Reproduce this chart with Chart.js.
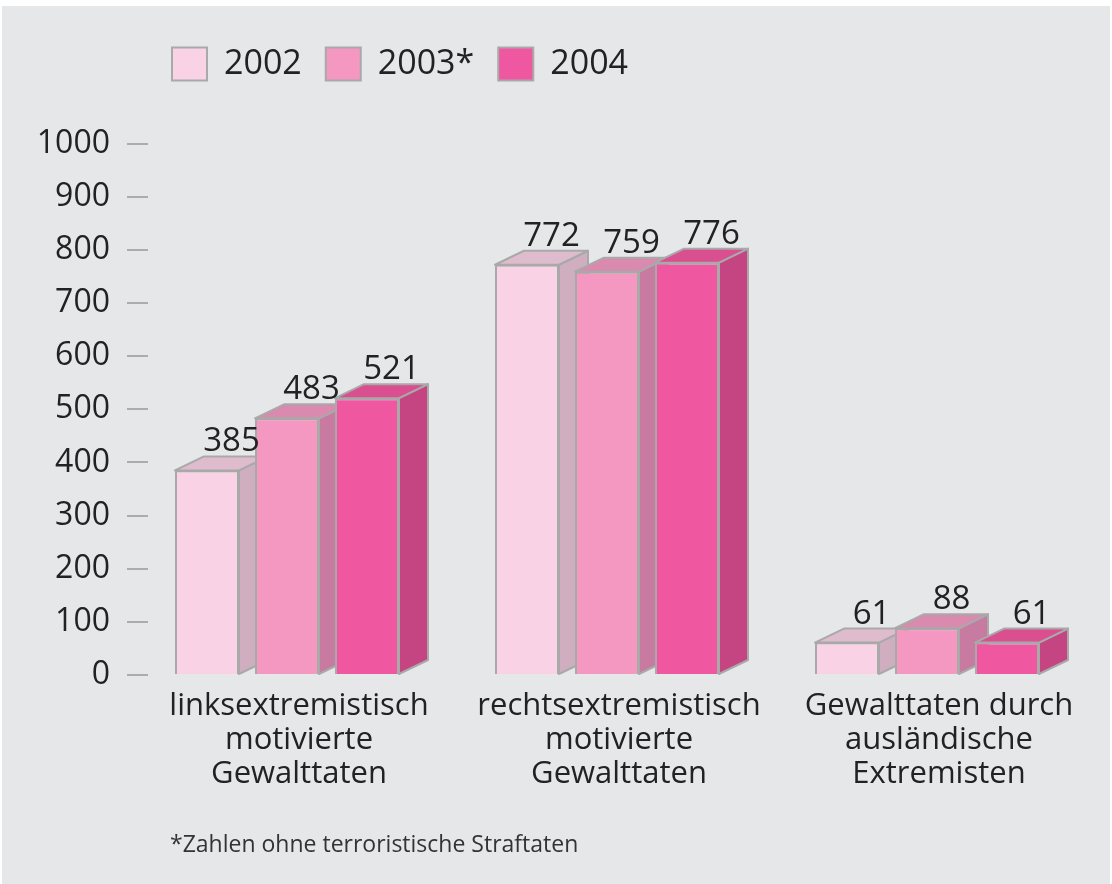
<!DOCTYPE html>
<html>
<head>
<meta charset="utf-8">
<script src="https://cdn.jsdelivr.net/npm/chart.js@4.4.1/dist/chart.umd.min.js"></script>
<style>
  html, body { margin: 0; background: #fff; }
  body { width: 1112px; height: 884px; position: relative; overflow: hidden; font-family: 'Open Sans', sans-serif; }
  .panel { position: absolute; left: 2px; top: 6px; width: 1108px; height: 890px; background: #e6e7e9; }
  #chart { position: absolute; left: 0; top: 0; }
  .note { position: absolute; left: 170px; top: 828px; font-size: 23px; line-height: 30px; color: #333; }
</style>
</head>
<body>
<div class="panel"></div>
<canvas id="chart" width="1112" height="884"></canvas>
<div class="note">*Zahlen ohne terroristische Straftaten</div>
<script>
const categories = [
  ['linksextremistisch', 'motivierte', 'Gewalttaten'],
  ['rechtsextremistisch', 'motivierte', 'Gewalttaten'],
  ['Gewalttaten durch', 'ausländische', 'Extremisten']
];
const seriesNames = ['2002', '2003*', '2004'];
const values2002 = [385, 772, 61];
const values2003 = [483, 759, 88];
const values2004 = [521, 776, 61];
const yTicks = [0, 100, 200, 300, 400, 500, 600, 700, 800, 900, 1000];

const frontColors = ['#f9d3e5', '#f497c1', '#ef58a0'];
const sideColors = ['#cfaec0', '#c87ba0', '#c44582'];
const topColors = ['#dfbccd', '#d98aae', '#d94f90'];
const edgeColor = '#a9a9a9';
const textColor = '#222';

const DX = 29, DY = 14;
const LEGEND_LEFT = 172;

Chart.defaults.font.family = "'Open Sans', sans-serif";
Chart.defaults.color = textColor;

function face(ctx, pts, fill) {
  ctx.beginPath();
  ctx.moveTo(pts[0][0], pts[0][1]);
  for (let k = 1; k < pts.length; k++) ctx.lineTo(pts[k][0], pts[k][1]);
  ctx.closePath();
  ctx.fillStyle = fill;
  ctx.fill();
  ctx.stroke();
}

// draws side and top faces, then the bar itself, left to right so fronts cover sides
const bars3d = {
  id: 'bars3d',
  afterLayout(chart) {
    const lg = chart.legend;
    const shift = LEGEND_LEFT - (lg.left + lg.options.labels.padding);
    lg.left += shift;
    lg.right += shift;
  },
  beforeDatasetsDraw(chart) {
    const ctx = chart.ctx;
    const metas = chart.data.datasets.map((ds, i) => chart.getDatasetMeta(i));
    ctx.save();
    ctx.lineWidth = 2;
    ctx.lineJoin = 'round';
    ctx.strokeStyle = edgeColor;
    categories.forEach((c, j) => {
      metas.forEach((meta, i) => {
        const bar = meta.data[j];
        const { x, y, base, width } = bar.getProps(['x', 'y', 'base', 'width'], true);
        const l = x - width / 2, r = x + width / 2;
        face(ctx, [[r, y], [r + DX, y - DY], [r + DX, base - DY], [r, base]], sideColors[i]);
        face(ctx, [[l, y], [l + DX, y - DY], [r + DX, y - DY], [r, y]], topColors[i]);
        bar.draw(ctx);
      });
    });
    ctx.font = "33px 'Open Sans', sans-serif";
    ctx.fillStyle = textColor;
    ctx.textAlign = 'center';
    ctx.textBaseline = 'alphabetic';
    metas.forEach((meta, i) => {
      meta.data.forEach((bar, j) => {
        const { x, y } = bar.getProps(['x', 'y'], true);
        ctx.fillText(chart.data.datasets[i].data[j], x + DX / 2 + 10, y - DY - 5);
      });
    });
    ctx.restore();
    return false;
  }
};

new Chart(document.getElementById('chart'), {
  type: 'bar',
  data: {
    labels: categories,
    datasets: [
      { label: seriesNames[0], data: values2002 },
      { label: seriesNames[1], data: values2003 },
      { label: seriesNames[2], data: values2004 }
    ].map((ds, i) => Object.assign(ds, {
      backgroundColor: frontColors[i],
      borderColor: edgeColor,
      borderWidth: 2,
      categoryPercentage: 0.75,
      barPercentage: 0.8
    }))
  },
  options: {
    responsive: false,
    animation: false,
    events: [],
    layout: { padding: { top: 23, right: 25, left: 0, bottom: 0 } },
    plugins: {
      legend: {
        position: 'top',
        align: 'start',
        fullSize: false,
        labels: {
          boxWidth: 35,
          boxHeight: 33,
          padding: 24,
          color: textColor,
          font: { size: 34 }
        }
      },
      tooltip: { enabled: false }
    },
    scales: {
      x: {
        grid: { display: false, drawTicks: false },
        border: { display: false },
        ticks: {
          color: textColor,
          font: { size: 31, lineHeight: 1.1 },
          padding: 14,
          labelOffset: 12,
          maxRotation: 0,
          autoSkip: false
        },
        afterFit(scale) { scale.height = 209; }
      },
      y: {
        min: 0,
        max: 1099,
        afterBuildTicks(scale) { scale.ticks = yTicks.map(v => ({ value: v })); },
        grid: {
          display: true,
          drawOnChartArea: false,
          drawTicks: true,
          tickLength: -21,
          color: '#acacac',
          lineWidth: 2
        },
        border: { display: false },
        ticks: {
          color: textColor,
          font: { size: 32 },
          padding: 38,
          callback: v => String(v)
        },
        afterFit(scale) { scale.width = 127; }
      }
    }
  },
  plugins: [bars3d]
});
</script>
</body>
</html>
